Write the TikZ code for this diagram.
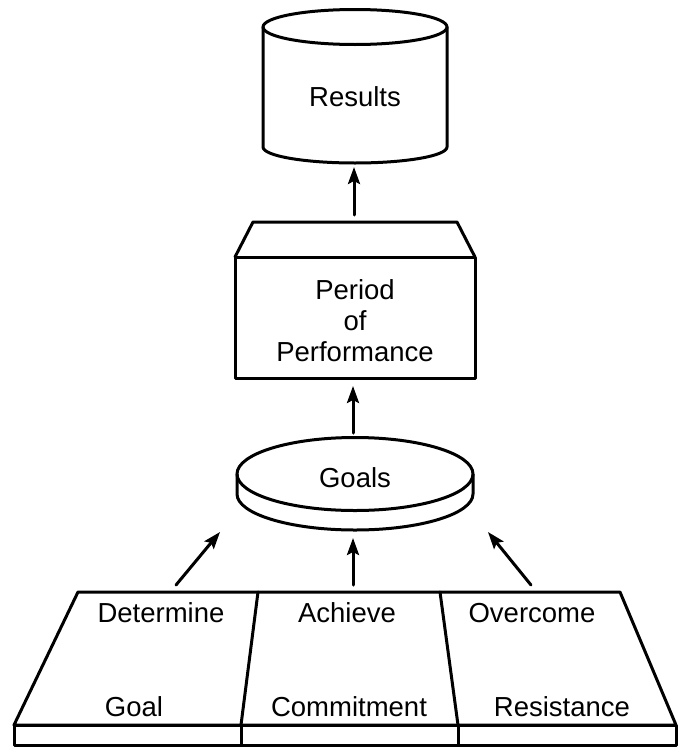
\documentclass[tikz,border=0pt]{standalone}
\usepackage{fontspec}
\setmainfont{Liberation Sans}
\usetikzlibrary{arrows.meta}
\tikzset{
  outline/.style={line width=3pt, line join=round},
  arr/.style={line width=3pt, -{Stealth[length=17pt,width=12pt,inset=3pt]}},
  lbl/.style={inner sep=0pt, font=\fontsize{27.5}{31}\selectfont}
}
\begin{document}
\begin{tikzpicture}[x=1pt,y=-1pt,line cap=round]
	\useasboundingbox (0,0) rectangle (678,747);
	\def \mx{355};
	% results
	\draw[outline] (263,27) -- (263,147) arc[start angle=180,end angle=0,x radius=92,y radius=16] -- (447,27);
	\draw[outline] (\mx,27) ellipse[x radius=92,y radius=17.5];
	\node[lbl] (results) at (\mx,97) {Results};
	% period of performance
	\draw[outline] (235,257) rectangle (475,378);
	\draw[outline] (235,257) -- (253,222) -- (457,222) -- (475,257);
	\node[lbl,align=center] (period) at (\mx,321) {Period\\of\\Performance};
	% goals
	\draw[outline] (237,474) -- (237,494) arc[start angle=180,end angle=0,x radius=118,y radius=36] -- (473,474);
	\draw[outline] (\mx,474) ellipse[x radius=118,y radius=36.5];
	\node[lbl] (goals) at (\mx,478) {Goals};
	% base
	\draw[outline] (14,725) -- (78,592) -- (620,592) -- (676,725) -- cycle;
	\draw[outline] (258,592) -- (241,725);
	\draw[outline] (440,592) -- (458,725);
	\draw[outline] (14,725) rectangle (676,745);
	\draw[outline] (241,725) -- (241,745);
	\draw[outline] (458,725) -- (458,745);
	\node[lbl] (determine) at (161,613) {Determine};
	\node[lbl] (goal) at (134,707) {Goal};
	\node[lbl] (achieve) at (347,613) {Achieve};
	\node[lbl] (commitment) at (349,707) {Commitment};
	\node[lbl] (overcome) at (532,613) {Overcome};
	\node[lbl] (resistance) at (562,707) {Resistance};
	% arrows
	\coordinate (resultsIn) at (354,167);
	\coordinate (periodOut) at (354,215);
	\coordinate (periodIn) at (353,386);
	\coordinate (goalsOut) at (353,433);
	\coordinate (goalsInL) at (220,532);
	\coordinate (goalsInC) at (353,538);
	\coordinate (goalsInR) at (488,532);
	\coordinate (baseL) at (176,585);
	\coordinate (baseC) at (353,585);
	\coordinate (baseR) at (531,585);
	\draw[arr] (periodOut) -- (resultsIn);
	\draw[arr] (goalsOut) -- (periodIn);
	\draw[arr] (baseL) -- (goalsInL);
	\draw[arr] (baseC) -- (goalsInC);
	\draw[arr] (baseR) -- (goalsInR);
\end{tikzpicture}
\end{document}
